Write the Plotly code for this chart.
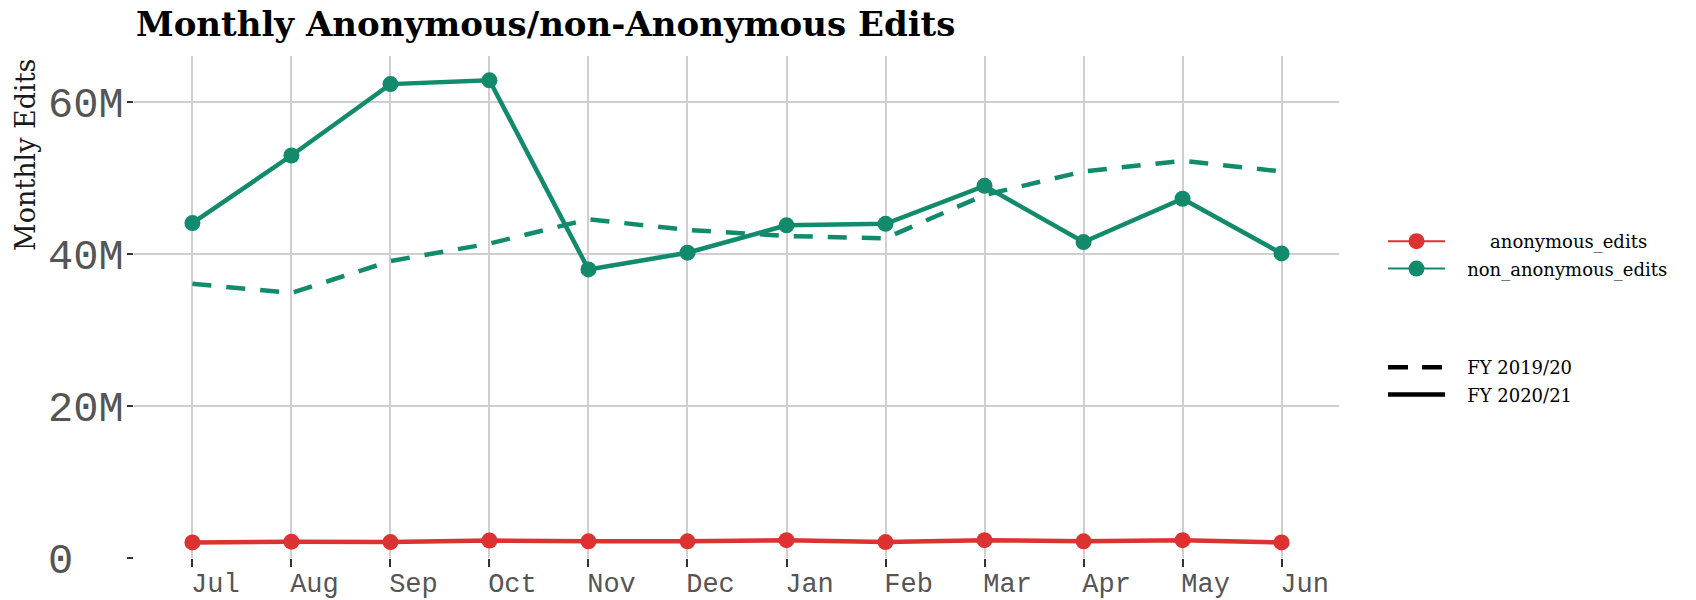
import plotly.graph_objects as go

months = ["Jul", "Aug", "Sep", "Oct", "Nov", "Dec", "Jan", "Feb", "Mar", "Apr", "May", "Jun"]
non_anon_fy2021 = [44.1e6, 53.0e6, 62.4e6, 62.9e6, 38.0e6, 40.2e6, 43.8e6, 44.0e6, 49.0e6, 41.6e6, 47.3e6, 40.1e6]
non_anon_fy1920 = [36.1e6, 34.9e6, 39.1e6, 41.4e6, 44.6e6, 43.2e6, 42.4e6, 42.1e6, 47.8e6, 50.9e6, 52.3e6, 50.9e6]
anon_fy2021 = [2.05e6, 2.15e6, 2.1e6, 2.3e6, 2.2e6, 2.2e6, 2.35e6, 2.1e6, 2.35e6, 2.2e6, 2.35e6, 2.05e6]
y_tickvals = [0, 20e6, 40e6, 60e6]
y_ticktext = ["0\u00a0\u00a0", "20M", "40M", "60M"]

RED = "#dc3232"
GREEN = "#128a6c"
W, H = 1696, 600
L, R, T, B = 134, 1339, 56, 558
NB = "\u00a0"

fig = go.Figure()

# data traces
fig.add_trace(go.Scatter(x=months, y=non_anon_fy1920, mode="lines",
                         line=dict(color=GREEN, width=4.5, dash="19px,15px"),
                         showlegend=False))
fig.add_trace(go.Scatter(x=months, y=non_anon_fy2021, mode="lines+markers",
                         line=dict(color=GREEN, width=4.5), marker=dict(size=16, color=GREEN),
                         showlegend=False))
fig.add_trace(go.Scatter(x=months, y=anon_fy2021, mode="lines+markers",
                         line=dict(color=RED, width=4.5), marker=dict(size=16, color=RED),
                         showlegend=False))

# legend entries
fig.add_trace(go.Scatter(x=[None], y=[None], mode="lines+markers",
                         name=NB * 7 + "anonymous_edits",
                         line=dict(color=RED, width=2), marker=dict(size=16, color=RED),
                         legend="legend", legendgroup="a"))
fig.add_trace(go.Scatter(x=[None], y=[None], mode="lines+markers",
                         name=NB * 3 + "non_anonymous_edits",
                         line=dict(color=GREEN, width=2), marker=dict(size=16, color=GREEN),
                         legend="legend", legendgroup="b"))
fig.add_trace(go.Scatter(x=[None], y=[None], mode="lines",
                         name=NB * 3 + "FY 2019/20",
                         line=dict(color="black", width=4.5, dash="20px,14px"),
                         legend="legend2", legendgroup="c"))
fig.add_trace(go.Scatter(x=[None], y=[None], mode="lines",
                         name=NB * 3 + "FY 2020/21",
                         line=dict(color="black", width=4.5),
                         legend="legend2", legendgroup="d"))

grid = "#cfcfcf"
fig.update_layout(
    width=W, height=H,
    margin=dict(l=L, r=W - R, t=T, b=H - B, pad=0, autoexpand=False),
    paper_bgcolor="white", plot_bgcolor="white",
    title=dict(text="<b>Monthly Anonymous/non-Anonymous Edits</b>",
               font=dict(family="DejaVu Serif", size=34, color="black"),
               x=136 / W, xref="container", xanchor="left",
               y=1 - 24 / H, yref="container", yanchor="middle"),
    xaxis=dict(type="category", categoryorder="array", categoryarray=months,
               range=[-0.59, 11.58], showgrid=True, gridcolor=grid, gridwidth=2,
               zeroline=False, showline=False, automargin=False,
               ticks="outside", ticklen=8, tickwidth=2, tickcolor="#333333",
               tickfont=dict(family="Liberation Mono", size=27, color="#555555"),
               ticklabelshift=23, ticklabelstandoff=-7),
    yaxis=dict(range=[0, 66.1e6], tickvals=y_tickvals, ticktext=y_ticktext,
               showgrid=True, gridcolor=grid, gridwidth=2, automargin=False,
               zeroline=False, showline=False,
               ticks="outside", ticklen=6, tickwidth=2, tickcolor="#333333",
               tickfont=dict(family="Liberation Mono", size=42, color="#555555"),
               ticklabelstandoff=-5),
    legend=dict(xref="container", yref="container", x=1383 / W, y=1 - 223 / H,
                xanchor="left", yanchor="top", itemwidth=57, tracegroupgap=1,
                font=dict(family="DejaVu Serif", size=18, color="black"),
                bgcolor="rgba(0,0,0,0)"),
    legend2=dict(xref="container", yref="container", x=1383 / W, y=1 - 349 / H,
                 xanchor="left", yanchor="top", itemwidth=57, tracegroupgap=1,
                 font=dict(family="DejaVu Serif", size=18, color="black"),
                 bgcolor="rgba(0,0,0,0)"),
    annotations=[dict(text="Monthly Edits", textangle=-90, showarrow=False,
                      xref="paper", yref="paper",
                      x=(25 - L) / (R - L), y=(B - 155) / (B - T),
                      xanchor="center", yanchor="middle",
                      font=dict(family="DejaVu Serif", size=27, color="#1a1a1a"))],
)

fig.write_html("out.html", config={"displayModeBar": False},
               post_script="document.body.style.margin='0';document.body.style.overflow='hidden';")
